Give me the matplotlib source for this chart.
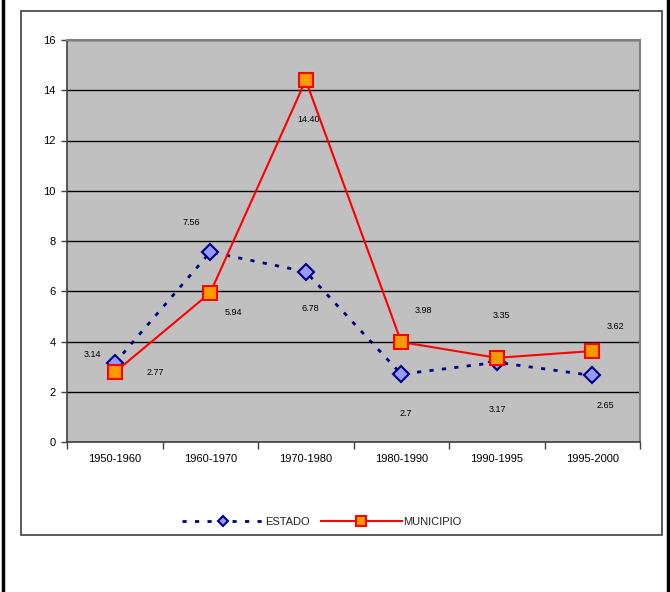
import matplotlib
matplotlib.use("Agg")
import matplotlib.pyplot as plt
from matplotlib.patches import Rectangle
from matplotlib.lines import Line2D

periods = ["1950-1960", "1960-1970", "1970-1980", "1980-1990", "1990-1995", "1995-2000"]
estado = [3.14, 7.56, 6.78, 2.7, 3.17, 2.65]
municipio = [2.77, 5.94, 14.40, 3.98, 3.35, 3.62]
estado_labels = ["3.14", "7.56", "6.78", "2.7", "3.17", "2.65"]
municipio_labels = ["2.77", "5.94", "14.40", "3.98", "3.35", "3.62"]
yticks = [0, 2, 4, 6, 8, 10, 12, 14, 16]

plt.rcParams['font.family'] = ['Liberation Sans', 'DejaVu Sans']

W, H = 670, 592
fig = plt.figure(figsize=(W / 100, H / 100), dpi=100)

def fx(px):
    return px / W

def fy(py):
    return 1 - py / H

# outer page lines
fig.add_artist(Line2D([fx(3), fx(3)], [0, 1], color='black', lw=2.5))
fig.add_artist(Line2D([fx(668), fx(668)], [0, 1], color='black', lw=2.5))
# chart area box
fig.add_artist(Rectangle((fx(21), fy(535)), fx(662) - fx(21), fy(11) - fy(535),
                         fill=False, edgecolor='#404040', lw=1.2))

ax = fig.add_axes([fx(67), fy(442), fx(640) - fx(67), fy(40) - fy(442)])
ax.set_facecolor('#C0C0C0')
x = list(range(len(periods)))

ax.set_ylim(0, 16)
ax.set_xlim(-0.5, len(periods) - 0.5)
ax.set_yticks(yticks)
ax.set_yticklabels([str(v) for v in yticks])
ax.yaxis.grid(True, color='black', lw=1.0)
ax.set_axisbelow(True)

ax.set_xticks([i - 0.5 for i in range(len(periods) + 1)])
ax.set_xticklabels([])
ax.set_xticks(x, minor=True)
ax.set_xticklabels(periods, minor=True)
ax.tick_params(axis='x', which='minor', length=0, pad=9, labelsize=8)
ax.tick_params(axis='x', which='major', length=5, width=1, color='#404040', direction='out')
ax.tick_params(axis='y', length=4, width=1, color='#404040', labelsize=8, pad=4)

for side in ['top', 'right']:
    ax.spines[side].set_color('#808080')
    ax.spines[side].set_linewidth(1.5)
for side in ['left', 'bottom']:
    ax.spines[side].set_color('#404040')
    ax.spines[side].set_linewidth(1.2)

ax.plot(x, estado, color='#000080', lw=2, linestyle=(0, (1.5, 3)),
        marker='D', markersize=8, markerfacecolor='#9999FF',
        markeredgecolor='#000080', markeredgewidth=1.5, label='ESTADO', zorder=3)
ax.plot(x, municipio, color='#FF0000', lw=1.5, linestyle='-',
        marker='s', markersize=10, markerfacecolor='#FF9900',
        markeredgecolor='#FF0000', markeredgewidth=1.5, label='MUNICIPIO', zorder=4)

est_off = [(-22, 9), (-19, 30), (5, -37), (5, -39), (1, -47), (13, -30)]
mun_off = [(41, 0), (23, -20), (3, -39), (22, 32), (5, 42), (23, 25)]
for i in x:
    ax.annotate(estado_labels[i], (x[i], estado[i]), xytext=est_off[i],
                textcoords='offset pixels', ha='center', va='center', fontsize=6.5)
    ax.annotate(municipio_labels[i], (x[i], municipio[i]), xytext=mun_off[i],
                textcoords='offset pixels', ha='center', va='center', fontsize=6.5)

leg = fig.legend(loc='center', bbox_to_anchor=(fx(322), fy(522)), ncol=2, frameon=False,
                 fontsize=8, handlelength=7.3, columnspacing=1.0, handletextpad=0.15,
                 markerscale=0.65)
for t in leg.get_texts():
    t.set_color('#222222')

fig.savefig('out.png', dpi=100)
